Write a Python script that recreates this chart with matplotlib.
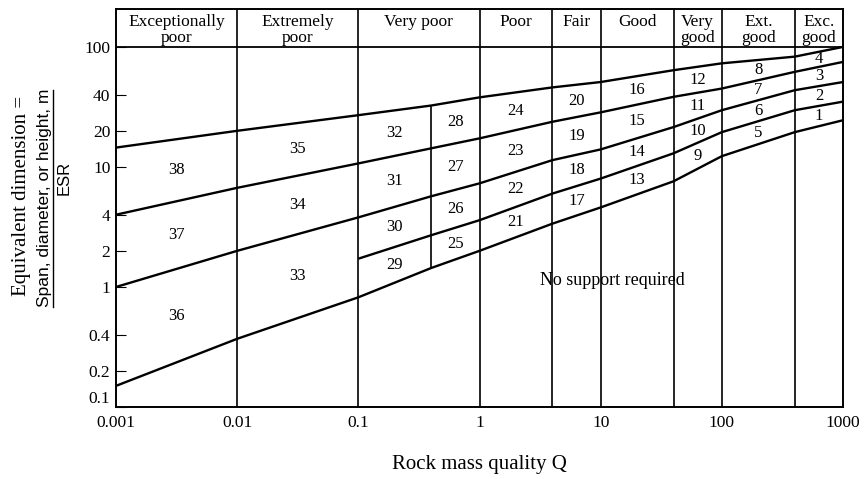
import numpy as np
import matplotlib.pyplot as plt
from matplotlib.lines import Line2D
from matplotlib.transforms import blended_transform_factory

# Q values where the category lines bend
q_pts   = [0.001, 0.01, 0.1, 0.4, 1, 4, 10, 40, 100, 400, 1000]
line_a  = [14.5, 20, 27, 32.5, 38, 46, 51, 64, 73, 83, 100]
line_b  = [4, 6.7, 10.7, 14.3, 17.3, 23.8, 28.5, 38.4, 45, 62, 75]
line_c  = [1, 2.0, 3.8, 5.7, 7.3, 11.4, 14, 21.5, 29.7, 43.6, 51]
line_c2 = [np.nan, np.nan, 1.72, 2.7, 3.6, 6.0, 8.0, 13, 19.5, 29.7, 35]
line_d  = [0.15, 0.37, 0.82, 1.44, 2.0, 3.37, 4.6, 7.6, 12.3, 19.5, 24.5]

# rock mass classes (header)
class_edges = [0.001, 0.01, 0.1, 1, 4, 10, 40, 100, 400, 1000]
class_names = ['Exceptionally\npoor', 'Extremely\npoor', 'Very poor', 'Poor',
               'Fair', 'Good', 'Very\ngood', 'Ext.\ngood', 'Exc.\ngood']

# support categories per column, top to bottom
col_edges = [0.001, 0.01, 0.1, 0.4, 1, 4, 10, 40, 100, 400, 1000]
col_cats = [[38, 37, 36], [35, 34, 33], [32, 31, 30, 29], [28, 27, 26, 25],
            [24, 23, 22, 21], [20, 19, 18, 17], [16, 15, 14, 13],
            [12, 11, 10, 9], [8, 7, 6, 5], [4, 3, 2, 1]]

xticks = [0.001, 0.01, 0.1, 1, 10, 100, 1000]
xticklabels = ['0.001', '0.01', '0.1', '1', '10', '100', '1000']
yticks = [0.1, 0.2, 0.4, 1, 2, 4, 10, 20, 40, 100]
yticklabels = ['0.1', '0.2', '0.4', '1', '2', '4', '10', '20', '40', '100']


def loginterp(x, xs, ys):
   xs = np.log10(np.array(xs, dtype=float))
   ys = np.array(ys, dtype=float)
   ok = ~np.isnan(ys)
   return 10**np.interp(np.log10(x), xs[ok], np.log10(ys[ok]))


plt.rcParams['font.family'] = 'Liberation Serif'

fig = plt.figure(figsize=(8.66, 4.79))
ax = fig.add_axes([116/866, 72/479, 727/866, 398/479])
ax.set_xscale('log')
ax.set_yscale('log')
ax.set_xlim(0.001, 1000)
ax.set_ylim(0.1, 207)

#=========================
for ln in [line_a, line_b, line_c, line_c2, line_d]:
   ax.plot(q_pts, ln, color='k', lw=1.7, solid_capstyle='butt')

for q in class_edges[1:-1]:
   ax.axvline(q, color='k', lw=1.2)
# short divider inside "Very poor"
i4 = q_pts.index(0.4)
ax.plot([0.4, 0.4], [line_d[i4], line_a[i4]], color='k', lw=1.2)
ax.axhline(100, color='k', lw=1.3)

#=========================
trans = blended_transform_factory(ax.transData, ax.transAxes)
for i, name in enumerate(class_names):
   xc = np.sqrt(class_edges[i]*class_edges[i+1])
   ax.text(xc, 0.988, name, transform=trans, ha='center', va='top',
           fontsize=12.5, linespacing=0.98)

for i, cats in enumerate(col_cats):
   xc = np.sqrt(col_edges[i]*col_edges[i+1])
   if len(cats) == 3:
      bounds = [line_a, line_b, line_c, line_d]
   else:
      bounds = [line_a, line_b, line_c, line_c2, line_d]
   for j, c in enumerate(cats):
      yt = loginterp(xc, q_pts, bounds[j])
      yb = loginterp(xc, q_pts, bounds[j+1])
      ax.text(xc, np.sqrt(yt*yb), str(c), ha='center', va='center', fontsize=12)

ax.text(12.5, 1.13, 'No support required', ha='center', va='center', fontsize=13)

#=========================
ax.set_xticks(xticks)
ax.set_xticklabels(xticklabels)
ax.set_yticks(yticks)
ax.set_yticklabels(yticklabels)
ax.minorticks_off()
ax.tick_params(axis='x', length=0, pad=6, labelsize=12.5)
ax.tick_params(axis='y', direction='in', length=7, width=0.8, pad=4, labelsize=12.5)
# lift the bottom y label a little, as in the original
ax.get_yticklabels()[0].set_va('bottom')
for s in ax.spines.values():
   s.set_linewidth(1.4)

ax.set_xlabel('Rock mass quality Q', fontsize=15, labelpad=17)

fig.text(22/866, 1-196/479, 'Equivalent dimension =', rotation=90,
         ha='center', va='center', fontsize=15)
fig.text(45/866, 1-198/479, 'Span, diameter, or height, m', rotation=90,
         ha='center', va='center', fontsize=12.5, family='Liberation Sans')
fig.add_artist(Line2D([53/866, 53/866], [1-90/479, 1-307/479], color='k', lw=1))
fig.text(64/866, 1-178/479, 'ESR', rotation=90,
         ha='center', va='center', fontsize=12, family='Liberation Sans')

fig.savefig('out.png', dpi=100)
